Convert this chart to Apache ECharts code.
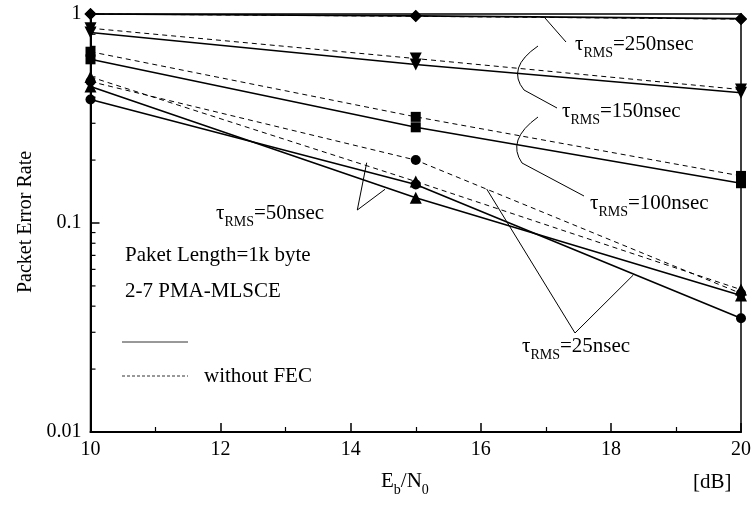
<!DOCTYPE html>
<html>
<head>
<meta charset="utf-8">
<script src="https://cdn.jsdelivr.net/npm/echarts@6/dist/echarts.min.js"></script>
<style>
html,body{margin:0;padding:0;background:#fff;}
#c{width:754px;height:505px;}
</style>
</head>
<body>
<div id="c"></div>
<script>
// ---- data ----
const ebN0 = [10, 15, 20];
const tau250_fec   = [1.0, 0.98, 0.95];
const tau250_nofec = [1.0, 0.975, 0.945];
const tau150_fec   = [0.815, 0.573, 0.42];
const tau150_nofec = [0.855, 0.612, 0.435];
const tau100_fec   = [0.607, 0.287, 0.155];
const tau100_nofec = [0.66, 0.322, 0.168];
const tau50_fec    = [0.45, 0.132, 0.045];
const tau50_nofec  = [0.50, 0.158, 0.048];
const tau25_fec    = [0.39, 0.153, 0.035];
const tau25_nofec  = [0.475, 0.2, 0.046];
const yMinorTicks = [0.02,0.03,0.04,0.05,0.06,0.07,0.08,0.09,0.2,0.3,0.4,0.5,0.6,0.7,0.8,0.9];

const FONT = 'Liberation Serif';
const chart = echarts.init(document.getElementById('c'));

function pts(arr){ return ebN0.map((x,i)=>[x, arr[i]]); }
function ser(name, arr, dashed, symbol, size, rotate){
  return {
    name, type:'line', data: pts(arr), symbol, symbolSize:size, symbolRotate: rotate||0,
    itemStyle:{color:'#000'},
    lineStyle:{color:'#000', width: dashed?1:1.6, type: dashed?[5,4]:'solid'},
    z: dashed?3:4, animation:false, clip:false
  };
}

const rich = {
  t:{fontFamily:FONT,fontSize:21,color:'#000',lineHeight:24,verticalAlign:'top'},
  s:{fontFamily:FONT,fontSize:14,color:'#000',lineHeight:16,padding:[12,0,0,0],verticalAlign:'top'},
  n:{fontFamily:FONT,fontSize:21,color:'#000',lineHeight:24,verticalAlign:'top'}
};
function tauLabel(val, x, y){
  return {type:'text', left:x, top:y, z:20, style:{text:'{t|τ}{s|RMS}{n|='+val+'}', rich, fill:'#000'}};
}
function seg(x1,y1,x2,y2,w){
  return {type:'line', z:20, shape:{x1,y1,x2,y2}, style:{stroke:'#000', lineWidth:w||1}};
}
function curve(x1,y1,cx,cy,x2,y2){
  return {type:'bezierCurve', z:20, shape:{x1,y1,x2,y2,cpx1:cx,cpy1:cy}, style:{stroke:'#000', lineWidth:1, fill:null}};
}
function txt(s, x, y, size){
  return {type:'text', left:x, top:y, z:20, style:{text:s, fontFamily:FONT, fontSize:size||20, fill:'#000'}};
}

const option = {
  animation:false,
  backgroundColor:'#fff',
  grid:{left:90.5, right:11.3, top:14, bottom:73, show:true, borderColor:'#000', borderWidth:1.5, backgroundColor:'transparent'},
  xAxis:{
    type:'value', min:10, max:20, interval:2,
    axisLine:{lineStyle:{color:'#000', width:2}},
    axisTick:{inside:true, length:9, lineStyle:{color:'#000', width:1.5}},
    minorTick:{show:true, splitNumber:2, length:5, lineStyle:{color:'#000', width:1.2}},
    splitLine:{show:false},
    axisLabel:{color:'#000', fontFamily:FONT, fontSize:20, margin:8}
  },
  yAxis:{
    type:'log', logBase:10, min:0.01, max:1,
    axisLine:{show:true, lineStyle:{color:'#000', width:2}},
    axisTick:{show:true, inside:true, length:9, lineStyle:{color:'#000', width:1.5}},
    splitLine:{show:false},
    axisLabel:{color:'#000', fontFamily:FONT, fontSize:20, margin:9,
      formatter:(v)=> v>=1 ? '1' : (v>=0.1 ? '0.1' : '0.01')}
  },
  series:[
    ser('250 FEC', tau250_fec, false, 'diamond', 12),
    ser('250 no FEC', tau250_nofec, true, 'diamond', 12),
    ser('150 FEC', tau150_fec, false, 'triangle', 12, 180),
    ser('150 no FEC', tau150_nofec, true, 'triangle', 12, 180),
    ser('100 FEC', tau100_fec, false, 'rect', 10),
    ser('100 no FEC', tau100_nofec, true, 'rect', 10),
    ser('50 FEC', tau50_fec, false, 'triangle', 12),
    ser('50 no FEC', tau50_nofec, true, 'triangle', 12),
    ser('25 FEC', tau25_fec, false, 'circle', 10),
    ser('25 no FEC', tau25_nofec, true, 'circle', 10),
    {
      type:'custom', coordinateSystem:'cartesian2d', silent:true, clip:false, z:5,
      data: yMinorTicks.map(v=>[10, v]),
      renderItem:(params, api)=>{
        const p = api.coord([api.value(0), api.value(1)]);
        return {type:'line', shape:{x1:p[0], y1:p[1], x2:p[0]+5, y2:p[1]}, style:{stroke:'#000', lineWidth:1.2}};
      }
    }
  ],
  graphic:[
    // axis titles
    {type:'text', rotation:Math.PI/2, x:26, y:222, z:20,
      style:{text:'Packet Error Rate', fontFamily:FONT, fontSize:20, fill:'#000', align:'center', verticalAlign:'middle'}},
    {type:'text', left:381, top:471, z:20, style:{text:'{n|E}{s|b}{n|/N}{s|0}', rich, fill:'#000'}},
    txt('[dB]', 693, 472, 21),
    // inline legend / notes
    txt('Paket Length=1k byte', 125, 245, 21),
    txt('2-7 PMA-MLSCE', 125, 281, 21),
    {type:'line', z:20, shape:{x1:122, y1:342, x2:188, y2:342}, style:{stroke:'#333', lineWidth:1}},
    {type:'line', z:20, shape:{x1:122, y1:376, x2:188, y2:376}, style:{stroke:'#333', lineWidth:1, lineDash:[3,2]}},
    txt('without FEC', 204, 366, 21),
    // tau labels
    tauLabel('250nsec', 575, 34),
    tauLabel('150nsec', 562, 101),
    tauLabel('100nsec', 590, 193),
    tauLabel('50nsec', 216, 203),
    tauLabel('25nsec', 522, 336),
    // leaders
    seg(545,18,566,42),
    curve(538,46,506,68,524,90), seg(524,90,557,108),
    curve(538,117,506,140,522,163), seg(522,163,584,196),
    seg(366.7,162.7,357.3,210), seg(357.3,210,385,189.3),
    seg(486.7,189,575,333), seg(575,333,633.3,275)
  ]
};
chart.setOption(option);
</script>
</body>
</html>
